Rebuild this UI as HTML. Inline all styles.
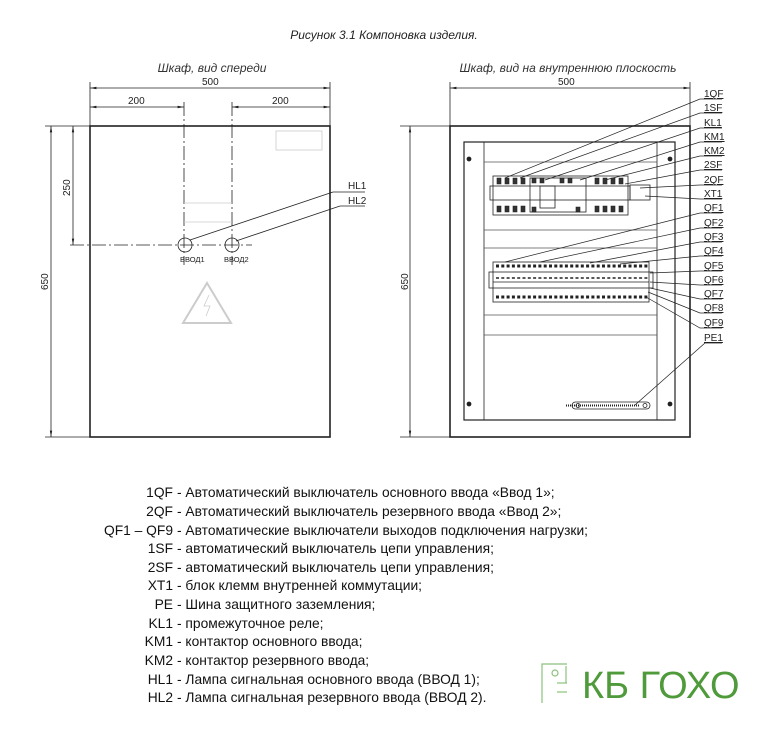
<!DOCTYPE html>
<html><head><meta charset="utf-8"><style>
body{margin:0;background:#fff;width:769px;height:740px;overflow:hidden}
svg text{font-family:"Liberation Sans",sans-serif}
</style></head><body>
<svg width="769" height="740" viewBox="0 0 769 740" xmlns="http://www.w3.org/2000/svg">
<defs><marker id="a" markerWidth="8" markerHeight="6" refX="8" refY="3" orient="auto-start-reverse"><path d="M0,1.5 L8,3 L0,4.5Z" fill="#222"/></marker></defs>
<text x="384" y="39" font-size="12" font-style="italic" text-anchor="middle" fill="#222">Рисунок 3.1 Компоновка изделия.</text>
<text x="212" y="72" font-size="12" font-style="italic" text-anchor="middle" fill="#333">Шкаф, вид спереди</text>
<text x="568" y="72" font-size="12" font-style="italic" text-anchor="middle" fill="#333">Шкаф, вид на внутреннюю плоскость</text>
<g stroke="#222" stroke-width="0.8" fill="none">
<line x1="90" y1="82" x2="90" y2="126"/><line x1="330" y1="82" x2="330" y2="126"/>
<line x1="90" y1="88" x2="330" y2="88" marker-start="url(#a)" marker-end="url(#a)"/>
<line x1="90" y1="107" x2="184" y2="107" marker-start="url(#a)" marker-end="url(#a)"/>
<line x1="232" y1="107" x2="330" y2="107" marker-start="url(#a)" marker-end="url(#a)"/>
<line x1="184" y1="102" x2="184" y2="265" stroke-dasharray="14,3,2,3"/>
<line x1="232" y1="102" x2="232" y2="265" stroke-dasharray="14,3,2,3"/>
<line x1="70" y1="245" x2="252" y2="245" stroke-dasharray="14,3,2,3"/>
<line x1="45" y1="126" x2="90" y2="126"/><line x1="45" y1="437" x2="90" y2="437"/>
<line x1="51" y1="126" x2="51" y2="437" marker-start="url(#a)" marker-end="url(#a)"/>
<line x1="73" y1="126" x2="73" y2="245" marker-start="url(#a)" marker-end="url(#a)"/>
<rect x="90" y="126" width="240" height="311" stroke-width="1.6"/>
<circle cx="185" cy="245" r="7"/><circle cx="232" cy="245" r="7"/>
<line x1="190" y1="240" x2="333" y2="192"/><line x1="333" y1="192" x2="365" y2="192"/>
<line x1="236" y1="241" x2="340" y2="206"/><line x1="340" y1="206" x2="365" y2="206"/>
<g stroke="#ccc"><rect x="276" y="131" width="46" height="19"/><line x1="184" y1="203" x2="232" y2="203"/><line x1="184" y1="222" x2="232" y2="222"/>
<path d="M207,283 L231,323 L183,323Z" stroke-width="2"/><path d="M209,295 L204,306 L210,306 L206,316"/></g>
<line x1="450" y1="82" x2="450" y2="126"/><line x1="690" y1="82" x2="690" y2="126"/>
<line x1="450" y1="88" x2="690" y2="88" marker-start="url(#a)" marker-end="url(#a)"/>
<line x1="400" y1="126" x2="450" y2="126"/><line x1="400" y1="437" x2="450" y2="437"/>
<line x1="410" y1="126" x2="410" y2="437" marker-start="url(#a)" marker-end="url(#a)"/>
<rect x="450" y="126" width="240" height="311" stroke-width="1.6"/>
<rect x="464" y="142" width="211" height="278" stroke-width="1.2"/>
<line x1="484" y1="142" x2="484" y2="420"/><line x1="657" y1="142" x2="657" y2="420"/>
<g stroke="#555"><line x1="484" y1="162" x2="657" y2="162"/><line x1="484" y1="230" x2="657" y2="230"/><line x1="484" y1="248" x2="657" y2="248"/><line x1="484" y1="315" x2="657" y2="315"/><line x1="484" y1="335" x2="657" y2="335"/></g>
<circle cx="469" cy="159" r="2" fill="#222"/><circle cx="670" cy="159" r="2" fill="#222"/><circle cx="469" cy="404" r="2" fill="#222"/><circle cx="670" cy="404" r="2" fill="#222"/>
<rect x="493" y="176" width="135" height="39"/>
<rect x="490" y="186" width="140" height="14"/>
<rect x="530" y="178" width="56" height="34"/><rect x="540" y="186" width="15" height="22"/>
<rect x="630" y="185" width="20" height="15"/>
<rect x="493" y="262" width="156" height="40"/>
<rect x="489" y="272" width="164" height="16"/>
<line x1="493" y1="282" x2="649" y2="282"/>
<rect x="572" y="402" width="78" height="7" rx="3.5"/>
<circle cx="578" cy="405.5" r="2"/><circle cx="645" cy="405.5" r="2"/>
<g stroke-width="0.7">
<polyline points="505,178 700,99 722,99"/><polyline points="520,178 700,113 722,113"/>
<polyline points="545,180 700,128 722,128"/><polyline points="580,180 700,142 722,142"/>
<polyline points="605,180 700,156 722,156"/><polyline points="625,184 700,170 722,170"/>
<polyline points="640,188 700,185 722,185"/><polyline points="645,196 700,199 722,199"/>
<polyline points="505,262 700,213 722,213"/><polyline points="540,262 700,228 722,228"/>
<polyline points="590,263 700,242 722,242"/><polyline points="620,264 700,256 722,256"/>
<polyline points="650,273 700,271 722,271"/><polyline points="650,282 700,285 722,285"/>
<polyline points="650,288 700,299 722,299"/><polyline points="648,292 700,313 722,313"/>
<polyline points="646,297 700,328 722,328"/><polyline points="635,405 705,343 722,343"/>
</g></g>
<g fill="#222">
<g fill="#333" stroke="#222" stroke-width="0.6">
<path d="M497,178h4v6h-4zM505,178h4v6h-4zM513,178h4v6h-4zM521,178h4v6h-4zM595,178h4v6h-4zM603,178h4v6h-4zM611,178h4v6h-4zM619,178h4v6h-4zM497,206h4v6h-4zM505,206h4v6h-4zM513,206h4v6h-4zM521,206h4v6h-4zM595,206h4v6h-4zM603,206h4v6h-4zM611,206h4v6h-4zM619,206h4v6h-4zM532,178h4v5h-4zM540,178h4v5h-4zM560,178h4v5h-4zM568,178h4v5h-4zM532,207h4v5h-4zM576,207h4v5h-4z"/>
</g>
<g stroke="#222" stroke-width="3" stroke-dasharray="3,2.3"><line x1="496" y1="266" x2="649" y2="266"/><line x1="496" y1="297" x2="649" y2="297"/><line x1="496" y1="278" x2="649" y2="278" stroke-width="1.5"/><line x1="566" y1="405.5" x2="640" y2="405.5" stroke-width="2" stroke-dasharray="1,1"/></g>
<text font-size="7.5" x="180" y="262">ВВОД1</text><text font-size="7.5" x="224" y="262">ВВОД2</text>
</g>
<g font-size="10" fill="#222">
<text x="202" y="85">500</text>
<text x="128" y="104">200</text><text x="272" y="104">200</text>
<text x="558" y="85">500</text>
<text transform="translate(70,196) rotate(-90)">250</text>
<text transform="translate(48,290) rotate(-90)">650</text>
<text transform="translate(408,290) rotate(-90)">650</text>
<text x="348" y="189">HL1</text><text x="348" y="204">HL2</text>
<g text-decoration="underline">
<text x="704" y="97">1QF</text><text x="704" y="111">1SF</text><text x="704" y="126">KL1</text><text x="704" y="140">KM1</text><text x="704" y="154">KM2</text><text x="704" y="168">2SF</text><text x="704" y="183">2QF</text><text x="704" y="197">XT1</text><text x="704" y="211">QF1</text><text x="704" y="226">QF2</text><text x="704" y="240">QF3</text><text x="704" y="254">QF4</text><text x="704" y="269">QF5</text><text x="704" y="283">QF6</text><text x="704" y="297">QF7</text><text x="704" y="311">QF8</text><text x="704" y="326">QF9</text><text x="704" y="341">PE1</text>
</g></g>
<g font-size="13.8" fill="#111">
<text x="173" y="497" text-anchor="end">1QF</text><text x="177" y="497">- Автоматический выключатель основного ввода «Ввод 1»;</text>
<text x="173" y="516" text-anchor="end">2QF</text><text x="177" y="516">- Автоматический выключатель резервного ввода «Ввод 2»;</text>
<text x="173" y="535" text-anchor="end">QF1 – QF9</text><text x="177" y="535">- Автоматические выключатели выходов подключения нагрузки;</text>
<text x="173" y="553" text-anchor="end">1SF</text><text x="177" y="553">- автоматический выключатель цепи управления;</text>
<text x="173" y="572" text-anchor="end">2SF</text><text x="177" y="572">- автоматический выключатель цепи управления;</text>
<text x="173" y="590" text-anchor="end">XT1</text><text x="177" y="590">- блок клемм внутренней коммутации;</text>
<text x="173" y="609" text-anchor="end">PE</text><text x="177" y="609">- Шина защитного заземления;</text>
<text x="173" y="628" text-anchor="end">KL1</text><text x="177" y="628">- промежуточное реле;</text>
<text x="173" y="646" text-anchor="end">KM1</text><text x="177" y="646">- контактор основного ввода;</text>
<text x="173" y="665" text-anchor="end">KM2</text><text x="177" y="665">- контактор резервного ввода;</text>
<text x="173" y="684" text-anchor="end">HL1</text><text x="177" y="684">- Лампа сигнальная основного ввода (ВВОД 1);</text>
<text x="173" y="702" text-anchor="end">HL2</text><text x="177" y="702">- Лампа сигнальная резервного ввода (ВВОД 2).</text>
</g>
<g stroke="#8bc07a" fill="none" stroke-width="1.2">
<polyline points="567,664 542,664 542,703"/><line x1="557" y1="683" x2="567" y2="683"/><line x1="557" y1="692" x2="567" y2="692"/><line x1="566" y1="666" x2="566" y2="683"/>
<circle cx="555" cy="673" r="3"/>
</g>
<text x="582" y="698" font-size="38" fill="#4f9a3a">КБ ГОХО</text>
</svg>
</body></html>
